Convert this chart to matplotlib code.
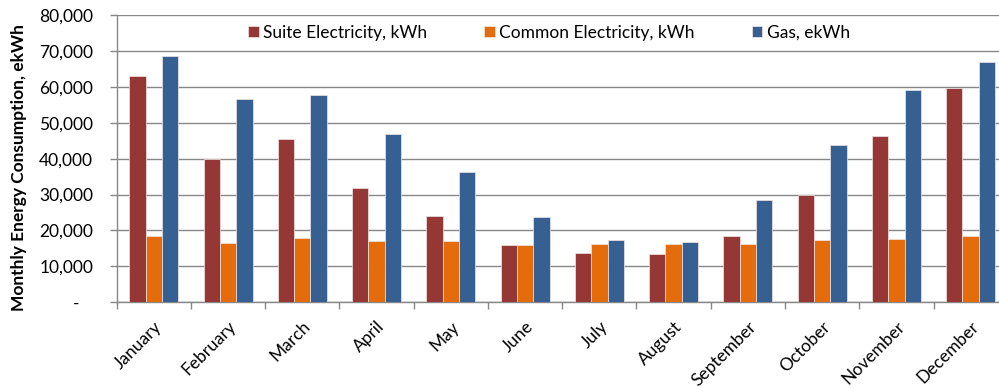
import numpy as np
import matplotlib
matplotlib.use('Agg')
import matplotlib.pyplot as plt
from matplotlib.ticker import FuncFormatter, MultipleLocator

plt.rcParams['font.family'] = ['Lato', 'DejaVu Sans']
fs = 12.5

# monthly consumption
months = ['January', 'February', 'March', 'April', 'May', 'June', 'July',
          'August', 'September', 'October', 'November', 'December']
suite_elec = [62900, 39900, 45600, 31800, 23950, 16050, 13650, 13400, 18400, 29900, 46200, 59800]
common_elec = [18550, 16500, 18000, 17000, 17000, 16050, 16250, 16250, 16250, 17350, 17550, 18450]
gas = [68500, 56700, 57700, 46800, 36200, 23750, 17350, 16800, 28400, 43700, 59200, 66850]

series = [('Suite Electricity, kWh', suite_elec, '#953735'),
          ('Common Electricity, kWh', common_elec, '#E46C0A'),
          ('Gas, ekWh', gas, '#376092')]

fig = plt.figure(figsize=(9.99, 3.88), dpi=100)
ax = fig.add_axes([0.1168, 0.2209, 0.892, 0.7405])

x = np.arange(len(months))
w = 0.22
for i, (name, vals, col) in enumerate(series):
    ax.bar(x + (i - 1) * w, vals, w, color=col, edgecolor='#f2e6e6',
           linewidth=0.5, label=name, zorder=3)

ax.set_xlim(-0.5, len(months) - 0.5)
ax.set_ylim(0, 80000)
ax.yaxis.set_major_locator(MultipleLocator(10000))
ax.yaxis.set_major_formatter(FuncFormatter(lambda v, p: '-   ' if v == 0 else '{:,.0f}'.format(v)))
ax.grid(axis='y', color='#878787', linewidth=1.0, zorder=0)
ax.set_axisbelow(True)

ax.set_xticks(x)
ax.set_xticklabels(months, rotation=45, ha='right', rotation_mode='anchor')
ax.set_xticks(np.arange(-0.5, len(months)), minor=True)
ax.tick_params(axis='x', which='major', length=0, pad=11.5, labelsize=fs)
ax.tick_params(axis='x', which='minor', length=5, width=1, color='#878787', direction='out')
ax.tick_params(axis='y', length=5, width=1, color='#878787', pad=12, labelsize=fs)

for s in ['top', 'right']:
    ax.spines[s].set_visible(False)
for s in ['left', 'bottom']:
    ax.spines[s].set_color('#878787')
    ax.spines[s].set_linewidth(1.0)

fig.text(19 / 999, 1 - 168 / 388, 'Monthly Energy Consumption, ekWh', rotation=90,
         ha='center', va='center', fontsize=fs, fontweight='bold')

ax.legend(loc='center', bbox_to_anchor=(549 / 999, 1 - 33 / 388),
          bbox_transform=fig.transFigure, ncol=3, frameon=False, fontsize=fs,
          handlelength=0.6, handleheight=0.6, handletextpad=0.25, columnspacing=3.3)

fig.savefig('out.png', dpi=100)
